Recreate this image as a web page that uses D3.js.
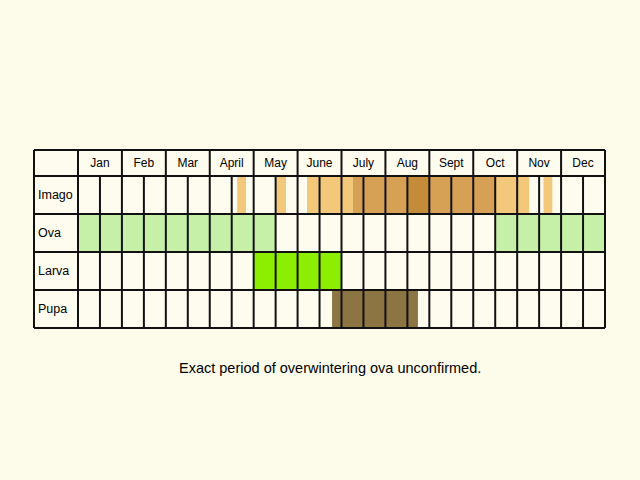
<!DOCTYPE html>
<html>
<head>
<meta charset="utf-8">
<script src="https://cdn.jsdelivr.net/npm/d3@7"></script>
<style>
  body { margin: 0; background: #fdfbea; }
  svg { font-family: "Liberation Sans", Arial, sans-serif; }
</style>
</head>
<body>
<svg id="chart" width="640" height="480"></svg>
<script>
const months = ['Jan', 'Feb', 'Mar', 'April', 'May', 'June', 'July', 'Aug', 'Sept', 'Oct', 'Nov', 'Dec']
const stages = ['Imago', 'Ova', 'Larva', 'Pupa']
// periods in half-month units: [stage, start, end, shade]
const periods = [
    ['Imago', 7.25, 7.65, 'light'],
    ['Imago', 9.0, 9.47, 'light'],
    ['Imago', 10.43, 12.52, 'light'],
    ['Imago', 12.52, 15.03, 'mid'],
    ['Imago', 15.03, 16.03, 'dark'],
    ['Imago', 16.03, 19.0, 'mid'],
    ['Imago', 19.0, 20.55, 'light'],
    ['Imago', 21.2, 21.6, 'light'],
    ['Ova', 0, 9, 'ova'],
    ['Ova', 19, 24, 'ova'],
    ['Larva', 8, 12, 'larva'],
    ['Pupa', 11.57, 15.48, 'pupa'],
]
const note = 'Exact period of overwintering ova unconfirmed.'

const colours = {
    light: '#f4c87a', mid: '#d6a155', dark: '#c48b39',
    ova: '#c6efa8', larva: '#8cee00', pupa: '#8c7443',
}

const svg = d3.select('#chart')
const gLeft = 34, labelW = 44, gRight = 605, gTop = 150, headH = 26, rowH = 38

const x = d3.scaleLinear().domain([0, 24]).range([gLeft + labelW, gRight])
const y = d3.scaleBand().domain(stages).range([gTop + headH, gTop + headH + rowH * stages.length])
const gBottom = y.range()[1]

svg.append('rect').attr('x', gLeft).attr('y', gTop)
    .attr('width', gRight - gLeft).attr('height', gBottom - gTop).attr('fill', '#fefcef')

svg.selectAll('rect.period').data(periods).enter().append('rect')
    .attr('x', d => x(d[1])).attr('width', d => x(d[2]) - x(d[1]))
    .attr('y', d => y(d[0])).attr('height', y.bandwidth())
    .attr('fill', d => colours[d[3]])

const g = svg.append('g').attr('stroke', '#111').attr('stroke-width', 2)
// horizontal lines
const ys = [gTop].concat(stages.map(s => y(s)), [gBottom])
g.selectAll('line.h').data(ys).enter().append('line')
    .attr('x1', gLeft).attr('x2', gRight).attr('y1', d => d).attr('y2', d => d)
// vertical lines
g.append('line').attr('x1', gLeft).attr('x2', gLeft).attr('y1', gTop).attr('y2', gBottom)
g.selectAll('line.v').data(d3.range(25)).enter().append('line')
    .attr('x1', d => x(d)).attr('x2', d => x(d))
    .attr('y1', d => (d % 2 === 0 ? gTop : gTop + headH)).attr('y2', gBottom)

svg.selectAll('text.month').data(months).enter().append('text')
    .attr('x', (d, i) => x(i * 2 + 1)).attr('y', gTop + headH / 2 + 4)
    .attr('text-anchor', 'middle').attr('font-size', 12).text(d => d)

svg.selectAll('text.stage').data(stages).enter().append('text')
    .attr('x', gLeft + 4).attr('y', d => y(d) + y.bandwidth() / 2 + 4)
    .attr('font-size', 12.5).text(d => d)

svg.append('text').attr('x', 179).attr('y', 373).attr('font-size', 14.5).text(note)
</script>
</body>
</html>
